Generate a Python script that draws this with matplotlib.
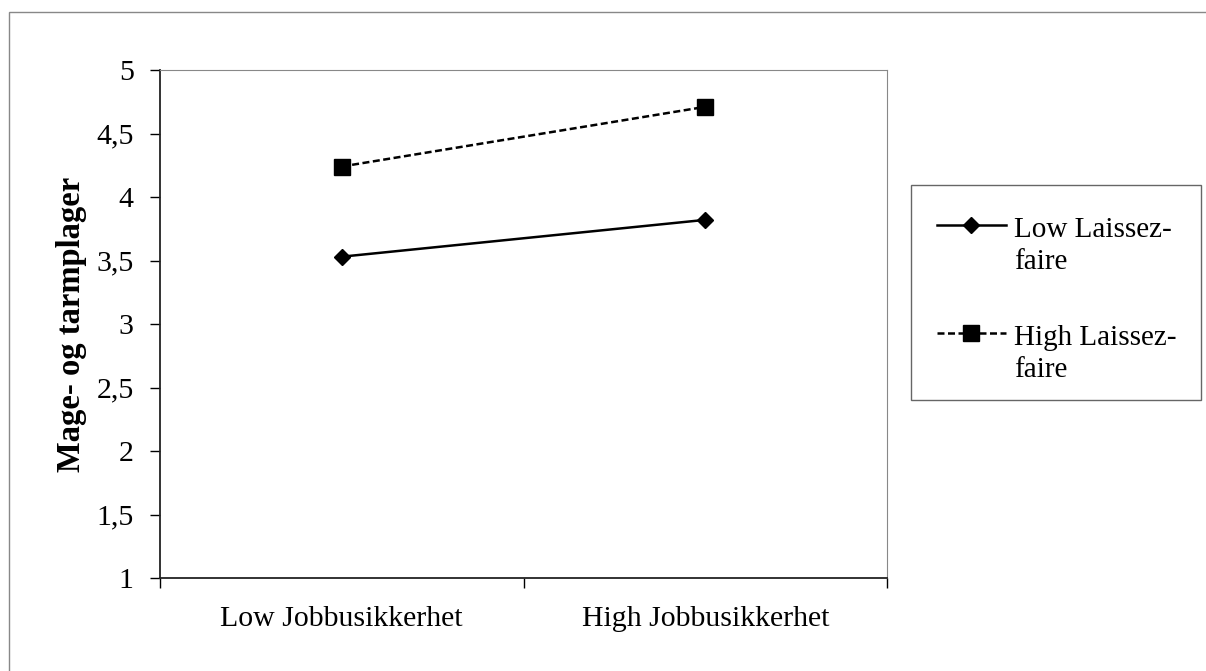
import matplotlib.pyplot as plt
import numpy as np
from matplotlib.legend_handler import HandlerLine2D
from matplotlib.transforms import Affine2D

plt.rcParams['font.family'] = ['Liberation Serif', 'DejaVu Serif']

# Данные
categories = ['Low Jobbusikkerhet', 'High Jobbusikkerhet']
low_lf = [3.53, 3.82]
high_lf = [4.24, 4.71]
labels = ['Low Laissez-\nfaire', 'High Laissez-\nfaire']
y_ticks = [1, 1.5, 2, 2.5, 3, 3.5, 4, 4.5, 5]
y_tick_labels = ['1', '1,5', '2', '2,5', '3', '3,5', '4', '4,5', '5']

W, H = 1206, 671
fig = plt.figure(figsize=(W / 100, H / 100), dpi=100)
ax = fig.add_axes([160 / W, 1 - 578 / H, 727 / W, 508 / H])

x = np.arange(len(categories))
ax.plot(x, low_lf, color='black', lw=1.8, marker='D', markersize=8.5, label=labels[0])
ax.plot(x, high_lf, color='black', lw=1.8, ls=(0, (2.8, 1.4)), marker='s', markersize=11,
        label=labels[1])

ax.set_xlim(-0.5, 1.5)
ax.set_ylim(1, 5)
ax.set_yticks(y_ticks, y_tick_labels)
ax.set_xticks([-0.5, 0.5, 1.5])
ax.set_xticklabels([])
ax.set_xticks(x, minor=True)
ax.set_xticklabels(categories, minor=True)
ax.tick_params(axis='x', which='minor', length=0, pad=20, labelsize=21.5)
ax.tick_params(axis='x', which='major', direction='out', length=7, width=1)
ax.tick_params(axis='y', direction='out', length=7, width=1, labelsize=21.5, pad=12)

for s in ['top', 'right']:
    ax.spines[s].set_color('#888888')
for s in ['left', 'bottom']:
    ax.spines[s].set_color('#222222')
    ax.spines[s].set_linewidth(1.3)

ax.set_ylabel('Mage- og tarmplager', fontsize=23.5, fontweight='bold', labelpad=7)


# маркер в легенде на уровне первой строки подписи
class UpperHandler(HandlerLine2D):
    def create_artists(self, legend, orig_handle, xdescent, ydescent, width, height,
                       fontsize, trans):
        shift = Affine2D().translate(0, 0.72 * fontsize)
        return super().create_artists(legend, orig_handle, xdescent, ydescent, width,
                                      height, fontsize, shift + trans)


h, l = ax.get_legend_handles_labels()
leg = fig.legend(h, l, loc='upper left', bbox_to_anchor=(937 / W, 1 - 217 / H), fontsize=21,
                 frameon=False, handlelength=2.35, handletextpad=0.3, labelspacing=1.7,
                 borderpad=0, borderaxespad=0,
                 handler_map={type(h[0]): UpperHandler()})
for t in leg.get_texts():
    t.set_linespacing(1.32)

# рамка легенды
fig.patches.append(plt.Rectangle((911 / W, 1 - 400 / H), 290 / W, 215 / H,
                                 transform=fig.transFigure, fill=False,
                                 edgecolor='#666666', lw=1))
# рамка вокруг рисунка
fig.patches.append(plt.Rectangle((9 / W, -0.05), 1.1, 1 - 12 / H + 0.05,
                                 transform=fig.transFigure, fill=False,
                                 edgecolor='#888888', lw=1))

fig.savefig('out.png', dpi=100)
